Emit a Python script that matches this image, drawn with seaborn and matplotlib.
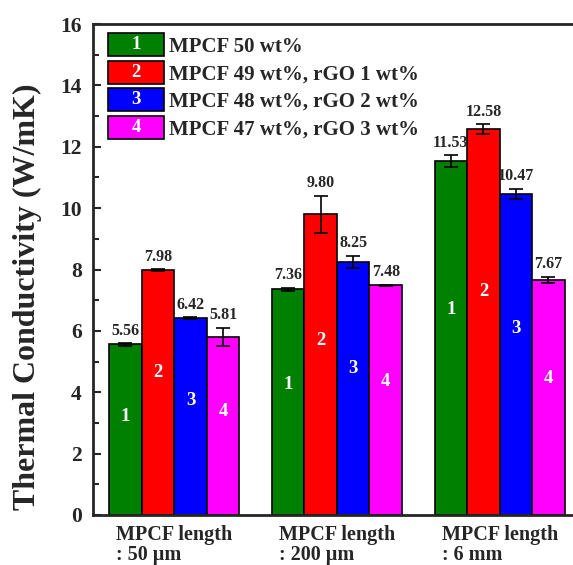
import pandas as pd
import numpy as np
import matplotlib.pyplot as plt
import seaborn as sns
from matplotlib.patches import Rectangle
from matplotlib.legend_handler import HandlerPatch
from matplotlib.ticker import MultipleLocator


groups = ['MPCF length\n: 50 \u00b5m', 'MPCF length\n: 200 \u00b5m', 'MPCF length\n: 6 mm']
samples = ['MPCF 50 wt%', 'MPCF 49 wt%, rGO 1 wt%', 'MPCF 48 wt%, rGO 2 wt%', 'MPCF 47 wt%, rGO 3 wt%']
sample_ids = ['1', '2', '3', '4']
colors = ['#008000', '#ff0000', '#0000ff', '#ff00ff']

# values per sample, one entry per MPCF length
s1 = [5.56, 7.36, 11.53]
s2 = [7.98, 9.80, 12.58]
s3 = [6.42, 8.25, 10.47]
s4 = [5.81, 7.48, 7.67]
# error bar half widths
e1 = [0.04, 0.05, 0.19]
e2 = [0.03, 0.60, 0.15]
e3 = [0.02, 0.20, 0.16]
e4 = [0.30, 0.03, 0.10]

vals = [s1, s2, s3, s4]
errs = [e1, e2, e3, e4]

df = pd.DataFrame({
    'group': groups * 4,
    'sample': np.repeat(samples, 3),
    'value': s1 + s2 + s3 + s4,
})

sns.set_style('ticks')
plt.rcParams['font.family'] = ['Liberation Serif', 'DejaVu Serif']
plt.rcParams['font.weight'] = 'bold'

fig = plt.figure(figsize=(5.73, 5.65), dpi=100)
ax = fig.add_axes([0.162, 0.0885, 0.852, 0.869])

sns.barplot(data=df, x='group', y='value', hue='sample', order=groups, hue_order=samples,
            palette=colors, saturation=1, edgecolor='black', linewidth=1.2,
            width=0.8, legend=False, ax=ax)

bar_conts = list(ax.containers)
for i, cont in enumerate(bar_conts):
    for j, bar in enumerate(cont):
        xc = bar.get_x() + bar.get_width() / 2
        v = vals[i][j]
        e = errs[i][j]
        ax.errorbar(xc, v, yerr=e, fmt='none', ecolor='black', elinewidth=1.2,
                    capsize=5, capthick=1.2)
        ax.text(xc, v + e + 0.15, f'{v:.2f}', ha='center', va='bottom',
                fontsize=11.5, fontweight='bold')
        ax.text(xc, v * 0.58, sample_ids[i], ha='center', va='center',
                fontsize=13.5, fontweight='bold', color='white')


class NumberedBox(HandlerPatch):
    def __init__(self, label):
        super().__init__()
        self.label = label

    def create_artists(self, legend, orig_handle, xdescent, ydescent, width, height, fontsize, trans):
        r = Rectangle((-xdescent, -ydescent), width, height, facecolor=orig_handle.get_facecolor(),
                      edgecolor='black', linewidth=1.2, transform=trans)
        t = plt.Text(-xdescent + width / 2, -ydescent + height / 2, self.label, ha='center', va='center',
                     color='white', fontsize=fontsize * 0.9, fontweight='bold', transform=trans)
        return [r, t]


handles = [Rectangle((0, 0), 1, 1, facecolor=c) for c in colors]
hmap = {h: NumberedBox(n) for h, n in zip(handles, sample_ids)}
ax.legend(handles, samples, handler_map=hmap, loc='upper left', bbox_to_anchor=(0.031, 0.981),
          frameon=False, prop={'size': 15, 'weight': 'bold'}, handlelength=2.7, handleheight=1.3,
          labelspacing=0.2, handletextpad=0.25, borderpad=0, borderaxespad=0)

ax.set_ylim(0, 16)
ax.set_xlim(-0.5, 2.5)
ax.yaxis.set_major_locator(MultipleLocator(2))
ax.yaxis.set_minor_locator(MultipleLocator(1))
ax.tick_params(axis='y', which='major', direction='in', length=6, width=1.5, labelsize=15.5, pad=8)
ax.tick_params(axis='y', which='minor', direction='in', length=4, width=1.5)
ax.tick_params(axis='x', length=0, labelsize=14.5, pad=7.5)
for lab in ax.get_xticklabels():
    lab.set_multialignment('left')
    lab.set_fontweight('bold')
    lab.set_linespacing(1.0)
for lab in ax.get_yticklabels():
    lab.set_fontweight('bold')

for s in ['left', 'bottom', 'top']:
    ax.spines[s].set_linewidth(2)
ax.spines['right'].set_visible(False)

ax.set_xlabel('')
ax.set_ylabel('Thermal Conductivity (W/mK)', fontsize=23, fontweight='bold')
ax.yaxis.set_label_coords(-0.105, 0.445)

fig.savefig('out.png', dpi=100)
